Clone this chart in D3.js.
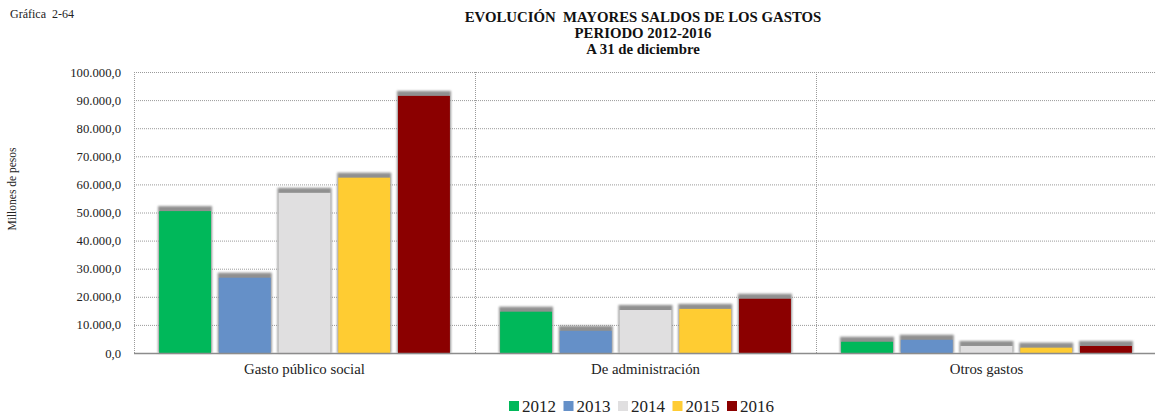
<!DOCTYPE html>
<html>
<head>
<meta charset="utf-8">
<script src="https://cdn.jsdelivr.net/npm/d3@7"></script>
<style>
  body { margin: 0; background: #fff; }
  svg { display: block; font-family: "Liberation Serif", "Times New Roman", serif; }
</style>
</head>
<body>
<svg id="chart" width="1155" height="417"></svg>
<script>
// Categories and yearly balances (millones de pesos)
const categories = ["Gasto público social", "De administración", "Otros gastos"];
const years = ["2012", "2013", "2014", "2015", "2016"];
const colors = ["#00B85A", "#6590C8", "#E0DFE0", "#FFCC33", "#8B0000"];
const values2012 = [50500, 14700, 4000];
const values2013 = [26800, 7900, 4700];
const values2014 = [57000, 15300, 2500];
const values2015 = [62400, 15700, 1900];
const values2016 = [91500, 19300, 2500];
const yTicks = [0, 10000, 20000, 30000, 40000, 50000, 60000, 70000, 80000, 90000, 100000];

const series = [values2012, values2013, values2014, values2015, values2016];

const svg = d3.select("#chart");
const margin = { left: 134, right: 1157, top: 72, bottom: 353 };

const x0 = d3.scaleBand().domain(categories).range([margin.left, margin.right]).padding(0);
const x1 = d3.scaleBand().domain(years).range([0, x0.bandwidth()])
  .paddingInner(0.13).paddingOuter(0.42);
const y = d3.scaleLinear().domain([0, 100000]).range([margin.bottom, margin.top]);

const fmt = d3.formatLocale({ decimal: ",", thousands: ".", grouping: [3], currency: ["$", ""] }).format(",.1f");

// Blur for the bar shadows
const defs = svg.append("defs");
defs.append("filter").attr("id", "shadowBlur").attr("x", "-20%").attr("y", "-20%").attr("width", "140%").attr("height", "140%")
  .append("feGaussianBlur").attr("stdDeviation", 1.3);
defs.append("filter").attr("id", "soft").attr("x", "-5%").attr("y", "-5%").attr("width", "110%").attr("height", "110%")
  .append("feGaussianBlur").attr("stdDeviation", 0.4);

// Horizontal gridlines
svg.append("g").selectAll("line").data(yTicks.filter(d => d > 0)).join("line")
  .attr("x1", margin.left).attr("x2", margin.right)
  .attr("y1", d => y(d) + 0.5).attr("y2", d => y(d) + 0.5)
  .attr("stroke", "#9a9a9a").attr("stroke-width", 1).attr("stroke-dasharray", "1,1");

// Vertical separators between categories
const seps = [margin.left].concat(categories.slice(1).map(c => x0(c)));
svg.append("g").selectAll("line").data(seps).join("line")
  .attr("x1", d => d + 0.5).attr("x2", d => d + 0.5)
  .attr("y1", margin.top).attr("y2", margin.bottom)
  .attr("stroke", "#9a9a9a").attr("stroke-width", 1).attr("stroke-dasharray", "1,1");

// Y axis tick labels
const yAxis = d3.axisLeft(y).tickValues(yTicks).tickFormat(fmt).tickSize(0).tickPadding(0);
const gy = svg.append("g").attr("transform", `translate(${margin.left - 13},0)`).call(yAxis);
gy.select(".domain").remove();
gy.selectAll("text").attr("font-family", "Liberation Serif").attr("font-size", 12.7).attr("fill", "#222");

// Bars
const groups = svg.append("g").selectAll("g").data(categories).join("g")
  .attr("transform", c => `translate(${x0(c)},0)`);

const barData = (c, ci) => years.map((yr, i) => ({ year: yr, value: series[i][ci], color: colors[i] }));

groups.each(function (c, ci) {
  const g = d3.select(this);
  const data = barData(c, ci);
  g.selectAll("rect.sh").data(data).join("rect").attr("class", "sh")
    .attr("x", d => x1(d.year) - 1)
    .attr("y", d => y(d.value) - 5)
    .attr("width", x1.bandwidth() + 2)
    .attr("height", d => margin.bottom - y(d.value) + 5)
    .attr("fill", "#909090")
    .attr("filter", "url(#shadowBlur)");
  g.selectAll("rect.bar").data(data).join("rect").attr("class", "bar")
    .attr("x", d => x1(d.year))
    .attr("y", d => y(d.value))
    .attr("width", x1.bandwidth())
    .attr("height", d => margin.bottom - y(d.value))
    .attr("fill", d => d.color)
    .attr("filter", "url(#soft)");
});

// Baseline
svg.append("line")
  .attr("x1", margin.left).attr("x2", margin.right)
  .attr("y1", margin.bottom + 0.5).attr("y2", margin.bottom + 0.5)
  .attr("stroke", "#8c8c8c").attr("stroke-width", 1.5);

// Category labels
const xAxis = d3.axisBottom(x0).tickSize(0).tickPadding(0);
const gx = svg.append("g").attr("transform", `translate(0,${margin.bottom + 10})`).call(xAxis);
gx.select(".domain").remove();
gx.selectAll("text").attr("font-family", "Liberation Serif").attr("font-size", 14.8).attr("fill", "#222");

// Y axis title
svg.append("text")
  .attr("transform", "translate(16,189) rotate(-90)")
  .attr("text-anchor", "middle")
  .attr("font-size", 11.5).attr("fill", "#222")
  .text("Millones de pesos");

// Chart number
svg.append("text").attr("x", 10).attr("y", 18).attr("font-size", 12).attr("fill", "#222")
  .style("white-space", "pre").text("Gráfica  2-64");

// Title
const titleLines = ["EVOLUCIÓN  MAYORES SALDOS DE LOS GASTOS", "PERIODO 2012-2016", "A 31 de diciembre"];
svg.append("g").selectAll("text").data(titleLines).join("text")
  .attr("x", 643).attr("y", (d, i) => 22 + i * 16)
  .attr("text-anchor", "middle").attr("font-weight", "bold").attr("font-size", 14.8).attr("fill", "#111")
  .style("white-space", "pre")
  .text(d => d);

// Legend
const legend = svg.append("g").attr("transform", "translate(509,401)");
const item = legend.selectAll("g").data(years).join("g")
  .attr("transform", (d, i) => `translate(${i * 54.5},0)`);
item.append("rect").attr("width", 10).attr("height", 10).attr("fill", (d, i) => colors[i]);
item.append("text").attr("x", 13).attr("y", 11).attr("font-size", 17).attr("fill", "#222").text(d => d);
</script>
</body>
</html>
